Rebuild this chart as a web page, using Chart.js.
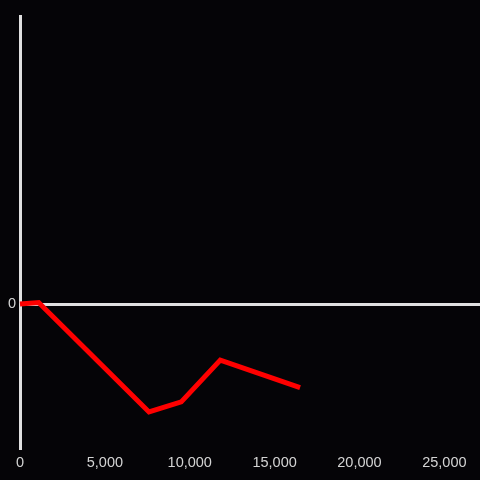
<!DOCTYPE html>
<html>
<head>
<meta charset="utf-8">
<script src="https://cdn.jsdelivr.net/npm/chart.js@4/dist/chart.umd.min.js"></script>
<style>
  html, body { margin: 0; padding: 0; background: #050407; }
  canvas { display: block; }
</style>
</head>
<body>
<canvas id="chart" width="480" height="480"></canvas>
<script>
// values
const xValues = [0, 1100, 7600, 9500, 11800, 16500];
const yValues = [0, 0.01, -0.75, -0.68, -0.39, -0.58];
const xTicks = [0, 5000, 10000, 15000, 20000, 25000];
const yTicks = [0];

document.addEventListener('DOMContentLoaded', () => {
    const points = xValues.map((x, i) => ({ x: x, y: yValues[i] }));
    const axisColor = '#e0e0e0';
    const textColor = '#d4d4d4';

    const ctx = document.getElementById('chart').getContext('2d');
    new Chart(ctx, {
        type: 'line',
        data: {
            datasets: [{
                data: points,
                borderColor: '#ff0000',
                borderWidth: 5,
                pointRadius: 0,
                tension: 0,
                fill: false,
                clip: 6
            }]
        },
        options: {
            responsive: false,
            animation: false,
            layout: { padding: { top: 16, right: 0, left: 0, bottom: 0 } },
            plugins: {
                legend: { display: false },
                tooltip: { enabled: false }
            },
            scales: {
                x: {
                    type: 'linear',
                    min: 0,
                    max: 27100,
                    afterBuildTicks: s => { s.ticks = xTicks.map(v => ({ value: v })); },
                    grid: { display: false, drawTicks: false },
                    border: { display: false },
                    ticks: {
                        color: textColor,
                        padding: 6,
                        maxRotation: 0,
                        autoSkip: false,
                        font: { family: 'Liberation Sans', size: 14.5 }
                    },
                    afterFit: s => { s.height = 32; s.paddingRight = 0; }
                },
                y: {
                    min: -1,
                    max: 2,
                    afterBuildTicks: s => { s.ticks = yTicks.map(v => ({ value: v })); },
                    grid: {
                        color: c => c.tick && c.tick.value === 0 ? axisColor : 'transparent',
                        lineWidth: 3,
                        drawTicks: false
                    },
                    border: { display: true, color: axisColor, width: 3 },
                    ticks: {
                        color: textColor,
                        padding: 4,
                        font: { family: 'Liberation Sans', size: 14.5 }
                    },
                    afterFit: s => { s.width = 20; }
                }
            }
        }
    });
});
</script>
</body>
</html>
